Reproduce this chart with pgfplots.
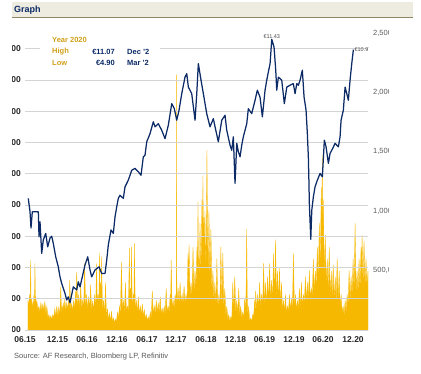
\documentclass[border=0pt]{standalone}
\usepackage{fontspec}
\setmainfont{Liberation Sans}
\usepackage{pgfplots}
\usepackage{pgfplotstable}
\pgfplotsset{compat=1.18}
\definecolor{navy}{HTML}{0B2A66}
\definecolor{volyellow}{HTML}{F6B800}
\definecolor{goldtxt}{HTML}{D1A01A}
\definecolor{barbg}{HTML}{EEECE1}
\definecolor{barline}{HTML}{8F8763}
\definecolor{gridgray}{HTML}{D4D4D4}
\definecolor{ticktxt}{HTML}{262626}
\definecolor{righttxt}{HTML}{5A5A5A}

% months since June 2015, closing price in EUR
\pgfplotstableread{
m p
0.66 6.21
1.01 5.78
1.21 5.26
1.47 5.78
2.68 5.78
2.82 4.98
3.02 5.46
3.36 4.45
3.68 4.88
4.17 5.09
4.57 4.66
5.03 4.94
5.37 5.00
5.69 4.77
6.18 4.34
6.70 4.02
7.04 3.70
7.38 3.49
8.05 3.17
8.39 2.96
8.71 3.06
9.05 2.87
9.72 3.38
10.40 3.28
10.72 3.54
11.07 3.38
11.53 3.70
12.07 4.08
12.62 4.34
13.08 3.92
13.42 3.70
14.08 3.92
14.89 4.02
15.43 3.81
16.10 3.81
16.44 4.24
16.76 4.72
17.30 5.20
17.77 5.09
18.11 5.62
18.45 5.94
18.77 6.21
19.11 6.31
19.78 6.21
20.12 6.58
20.78 6.79
21.47 7.11
22.13 7.17
22.80 7.06
23.34 6.95
23.80 7.54
24.14 7.59
24.49 8.02
25.15 8.28
25.81 8.66
26.16 8.50
26.82 8.60
27.50 8.39
28.17 8.12
28.83 8.55
29.52 9.24
30.04 9.08
30.52 8.71
30.99 9.03
31.53 9.56
32.19 10.09
32.54 10.20
32.86 9.77
33.54 9.56
34.21 8.71
34.55 9.56
34.87 10.52
35.41 9.99
35.88 9.56
36.56 8.92
37.22 8.50
37.89 8.76
38.23 8.50
38.89 8.02
39.58 8.71
40.24 8.87
40.58 8.39
41.25 7.91
41.59 7.75
41.91 8.18
42.25 6.69
42.60 7.97
42.92 7.70
43.26 7.54
43.60 7.91
43.92 8.18
44.61 8.60
44.93 9.08
45.61 8.92
46.28 9.35
46.74 9.67
47.28 9.45
47.75 8.82
48.29 9.67
48.63 9.99
48.95 10.25
49.30 10.52
49.64 11.30
50.10 11.05
50.44 10.31
50.64 9.67
50.97 10.09
51.65 9.99
52.17 9.24
52.66 9.77
53.32 9.83
53.98 9.88
54.33 9.56
54.67 9.88
54.99 9.83
55.33 9.99
55.79 10.31
56.14 9.45
56.54 9.03
56.80 8.28
57.00 7.54
57.11 6.79
57.20 6.05
57.49 4.90
57.69 5.83
58.01 6.26
58.35 6.58
58.81 6.79
59.36 7.01
59.82 6.90
60.22 8.07
60.56 7.86
61.03 7.33
61.37 7.65
61.91 7.81
62.37 7.97
63.04 7.86
63.38 8.18
63.58 8.71
64.04 9.03
64.39 9.77
64.73 9.56
65.05 9.35
65.39 9.99
65.73 10.52
66.06 10.97
}\pricetable

% months since June 2015, volume in thousands of shares
\pgfplotstableread{
m v
0.6 250
0.75 190
0.9 300
1.02 190
1.15 590
1.22 200
1.3 260
1.45 180
1.6 240
1.7 190
1.8 300
1.9 190
2.0 560
2.1 200
2.2 280
2.3 180
2.4 240
2.6 170
2.8 200
3.0 150
3.2 230
3.4 160
3.6 220
3.8 160
4.0 240
4.2 130
4.4 200
4.6 100
4.8 130
5.0 90
5.2 120
5.4 90
5.6 130
5.8 100
6.0 180
6.2 110
6.4 200
6.6 110
6.8 190
7.0 120
7.2 365
7.35 140
7.5 200
7.65 150
7.8 230
7.9 160
8.0 260
8.2 160
8.4 230
8.6 170
8.8 250
8.9 180
9.0 420
9.2 170
9.4 220
9.6 160
9.8 250
10.0 170
10.2 330
10.3 200
10.4 490
10.6 180
10.8 300
11.0 170
11.2 380
11.4 170
11.6 250
11.8 180
12.0 560
12.2 180
12.4 300
12.6 170
12.8 280
13.0 170
13.2 380
13.4 160
13.6 240
13.8 160
14.0 300
14.2 170
14.4 560
14.55 180
14.7 300
14.85 200
15.0 650
15.1 220
15.2 400
15.3 200
15.4 620
15.6 160
15.8 250
16.0 120
16.2 400
16.4 100
16.6 180
16.8 80
17.0 140
17.2 70
17.4 160
17.6 70
17.8 100
18.0 60
18.2 90
18.4 70
18.6 150
18.8 100
19.0 200
19.2 130
19.4 575
19.6 150
19.8 250
20.0 140
20.2 400
20.4 150
20.6 200
20.8 150
21.0 690
21.1 200
21.2 350
21.3 180
21.4 700
21.6 170
21.8 300
21.9 180
22.0 730
22.2 150
22.4 250
22.6 140
22.8 280
23.0 130
23.2 200
23.4 120
23.6 220
23.8 110
24.0 170
24.2 90
24.4 130
24.6 80
24.8 110
25.0 80
25.2 150
25.4 100
25.6 330
25.8 130
26.0 200
26.2 130
26.4 250
26.6 140
26.8 230
27.0 140
27.2 280
27.4 130
27.6 180
27.8 130
28.0 200
28.2 140
28.4 350
28.6 140
28.8 200
29.0 150
29.2 300
29.3 170
29.4 590
29.6 170
29.8 250
30.0 180
30.2 300
30.45 220
30.5 2150
30.55 300
30.65 230
30.8 350
31.0 220
31.2 400
31.4 230
31.6 300
31.8 220
32.0 370
32.2 230
32.4 300
32.6 240
32.8 650
32.9 300
33.0 720
33.2 280
33.4 400
33.6 280
33.8 700
34.0 300
34.2 500
34.4 350
34.6 700
34.7 400
34.8 1080
34.9 450
35.0 600
35.1 400
35.2 900
35.4 450
35.6 1100
35.7 500
35.8 1300
35.9 500
36.0 950
36.1 450
36.2 1000
36.35 450
36.5 900
36.6 1515
36.7 900
36.85 450
37.0 1000
37.2 400
37.4 850
37.6 300
37.8 500
38.0 250
38.2 400
38.4 200
38.6 600
38.8 180
39.0 300
39.2 180
39.4 700
39.6 200
39.8 650
40.0 180
40.2 350
40.4 120
40.6 200
40.8 90
41.0 130
41.2 70
41.4 110
41.6 90
41.8 400
42.0 150
42.2 450
42.4 140
42.6 250
42.8 130
43.0 350
43.2 120
43.4 200
43.6 100
43.8 150
44.0 100
44.2 260
44.35 120
44.5 400
44.6 850
44.7 300
44.85 100
45.0 200
45.2 70
45.4 100
45.6 70
45.8 130
46.0 120
46.2 250
46.3 150
46.4 330
46.6 170
46.8 300
47.0 180
47.2 400
47.4 180
47.6 300
47.8 200
48.0 560
48.2 200
48.4 400
48.6 200
48.8 450
49.0 220
49.2 560
49.4 220
49.6 420
49.8 230
50.0 650
50.2 250
50.4 760
50.6 250
50.8 500
51.0 230
51.2 520
51.4 200
51.6 400
51.8 160
52.0 250
52.2 150
52.4 300
52.6 140
52.8 200
53.0 150
53.2 300
53.4 160
53.6 260
53.8 180
54.0 650
54.2 180
54.4 300
54.6 160
54.8 250
55.0 170
55.2 350
55.4 180
55.6 400
55.8 190
56.0 300
56.2 220
56.4 450
56.6 230
56.8 400
57.0 250
57.2 500
57.4 260
57.6 350
57.8 280
58.0 600
58.2 300
58.4 500
58.6 350
58.8 700
59.0 400
59.2 900
59.4 500
59.6 1200
59.7 600
59.8 1470
59.9 600
60.0 1100
60.2 450
60.4 800
60.6 350
60.8 600
61.0 300
61.2 700
61.4 250
61.6 500
61.8 250
62.0 550
62.2 230
62.4 450
62.6 230
62.8 600
63.0 220
63.2 500
63.4 180
63.6 300
63.8 140
64.0 200
64.2 120
64.4 250
64.6 150
64.8 300
65.0 200
65.2 500
65.4 250
65.6 450
65.8 280
66.0 600
66.2 300
66.4 900
66.6 300
66.8 500
67.0 300
67.2 600
67.4 320
67.6 700
67.7 400
67.8 800
68.0 350
68.2 750
68.4 350
68.6 600
68.8 350
69.0 500
}\voltable

\begin{document}
\begin{tikzpicture}[x=1pt,y=1pt]
% ---------- volume (right axis) ----------
\begin{axis}[
  at={(25pt,43pt)}, anchor=south west, scale only axis,
  width=343pt, height=297pt,
  xmin=0, xmax=69, ymin=0, ymax=2500,
  axis line style={draw=none}, tick style={draw=none}, major tick length=0pt,
  xtick=\empty,
  ytick={500,1000,1500,2000,2500},
  yticklabels={{500,000},{1,000,000},{1,500,000},{2,000,000},{2,500,000}},
  yticklabel pos=right,
  yticklabel style={anchor=west, inner sep=0pt, xshift=5pt, text=righttxt,
    font=\fontsize{7.5}{9}\selectfont},
  /pgf/number format/assume math mode=true,
]
\addplot[fill=volyellow, draw=volyellow, line width=0.3pt, sharp plot]
  table[x=m, y=v] {\voltable} \closedcycle;
\end{axis}
% ---------- price (left axis) ----------
\begin{axis}[
  at={(25pt,43pt)}, anchor=south west, scale only axis,
  width=343pt, height=297pt,
  xmin=0, xmax=69, ymin=2, ymax=11.5,
  axis line style={draw=none}, tick style={draw=none}, major tick length=0pt,
  ytick={2,3,4,5,6,7,8,9,10,11},
  yticklabels={2.00,3.00,4.00,5.00,6.00,7.00,8.00,9.00,10.00,11.00},
  ymajorgrids, grid style={gridgray, line width=0.8pt},
  xtick={0,6.54,12.47,18.51,24.55,30.38,36.42,42.35,48.19,54.12,59.96,66},
  xticklabels={06.15,12.15,06.16,12.16,06.17,12.17,06.18,12.18,06.19,12.19,06.20,12.20},
  xticklabel style={anchor=north, inner sep=0pt, yshift=-6.5pt, text=ticktxt,
    font=\fontsize{8.5}{10}\selectfont\bfseries},
  yticklabel style={anchor=east, inner sep=0pt, xshift=-4pt, text=ticktxt,
    font=\fontsize{8.5}{10}\selectfont\bfseries},
  /pgf/number format/assume math mode=true,
]
\addplot[navy, line width=1.25pt, line join=round, sharp plot]
  table[x=m, y=p] {\pricetable};
\node[anchor=south, inner sep=1pt, text=black!70, font=\fontsize{5.5}{6}\selectfont]
  at (axis cs:49.64,11.30) {€11.43};
\node[anchor=west, inner sep=1pt, text=black!70, font=\fontsize{5.5}{6}\selectfont]
  at (axis cs:66.06,10.97) {€10.97};
\end{axis}
% ---------- cropping of tick labels as in the reference ----------
\fill[white] (0,35) rectangle (12.4,336);
\fill[white] (388.5,28) rectangle (421,348);
% ---------- Year 2020 box ----------
\fill[white] (40,303) rectangle (160,343);
\begin{scope}[font=\fontsize{7.5}{9}\selectfont\bfseries]
\node[anchor=west, inner sep=0pt, text=goldtxt] at (52,333) {Year 2020};
\node[anchor=west, inner sep=0pt, text=goldtxt] at (52,321) {High};
\node[anchor=west, inner sep=0pt, text=goldtxt] at (52,310) {Low};
\node[anchor=east, inner sep=0pt, text=navy] at (115,321) {€11.07};
\node[anchor=east, inner sep=0pt, text=navy] at (115,310) {€4.90};
\node[anchor=west, inner sep=0pt, text=navy] at (127,321) {Dec ’2};
\node[anchor=west, inner sep=0pt, text=navy] at (127,310) {Mar ’2};
\end{scope}
% ---------- title bar ----------
\fill[barbg] (12,355) rectangle (413,371);
\draw[barline, line width=1pt] (12,355) -- (413,355);
\node[anchor=west, inner sep=0pt, text=navy, font=\fontsize{9}{10}\selectfont\bfseries]
  at (14,363) {Graph};
% ---------- source ----------
\node[anchor=west, inner sep=0pt, text=black!65, font=\fontsize{7.5}{9}\selectfont]
  at (14,16) {Source: AF Research, Bloomberg LP, Refinitiv};
\pgfresetboundingbox
\useasboundingbox (0,0) rectangle (421,373);
\end{tikzpicture}
\end{document}
